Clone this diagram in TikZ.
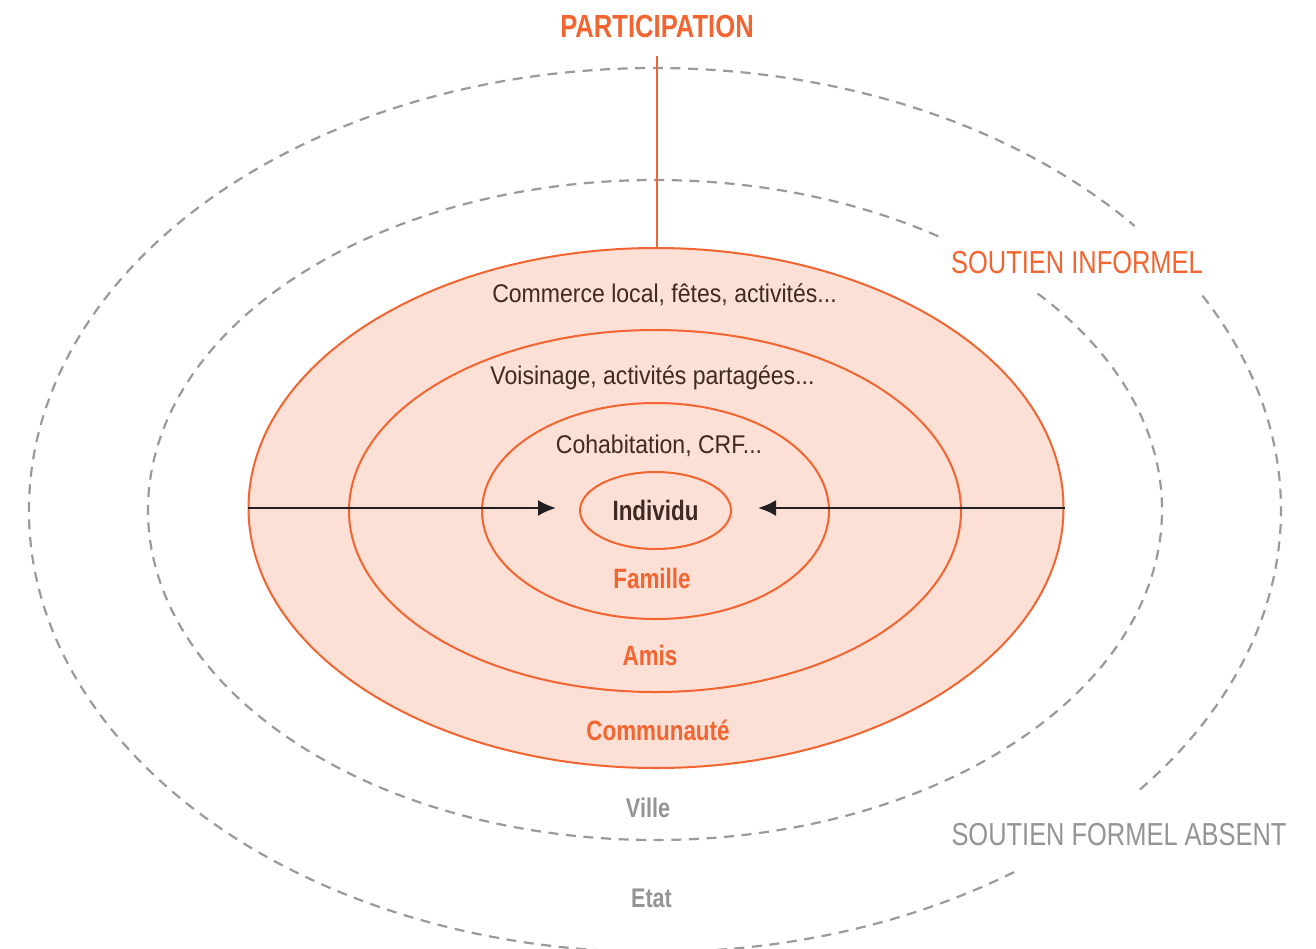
\documentclass[tikz,border=0pt]{standalone}
\usepackage{fontspec}
\setmainfont{Liberation Sans}[FakeStretch=0.8]
\newfontfamily\notefont{Liberation Sans}[FakeStretch=0.9]
\usetikzlibrary{arrows.meta,shapes.geometric}
\definecolor{ringorange}{HTML}{F26530}
\definecolor{ringfill}{HTML}{FCDFD5}
\definecolor{dashgray}{HTML}{9A9A9A}
\definecolor{labelgray}{HTML}{949494}
\definecolor{textbrown}{HTML}{3E2A22}
\definecolor{arrowdark}{HTML}{231F20}
\begin{document}
\begin{tikzpicture}[x=0.5pt,y=-0.5pt,
ring/.style={ellipse,draw=ringorange,fill=ringfill,line width=1pt,inner sep=0pt},
ringlabel/.style={anchor=base,inner sep=0pt,font=\bfseries\fontsize{14}{16}\selectfont,text=ringorange},
statelabel/.style={anchor=base,inner sep=0pt,font=\bfseries\fontsize{13.5}{16}\selectfont,text=labelgray},
note/.style={anchor=base,inner sep=0pt,font=\notefont\fontsize{12.8}{15}\selectfont,text=textbrown},
support/.style={anchor=base,inner sep=0pt,font=\fontsize{15.9}{19}\selectfont},
softline/.style={draw=dashgray,line width=1.1pt,dash pattern=on 5pt off 3.8pt},
pointer/.style={-{Latex[length=9pt,width=8pt]},line width=1.2pt,draw=arrowdark}]
\useasboundingbox (0,0) rectangle (1316,948);
\fill[white] (0,0) rectangle (1316,948);
% formal support (outer dashed rings)
\coordinate (centre) at (655,510);
\draw[softline] (centre) ++(-29:626 and 442) arc[start angle=-29,end angle=40,x radius=626,y radius=442];
\draw[softline] (centre) ++(55:626 and 442) arc[start angle=55,end angle=320,x radius=626,y radius=442];
\draw[softline] (centre) ++(-41:507 and 330) arc[start angle=-41,end angle=304,x radius=507,y radius=330];
% informal support (filled rings)
\node[ring,minimum width=407.5pt,minimum height=260pt] (comm) at (656,508) {};
\node[ring,minimum width=306pt,minimum height=181pt] (amis) at (655,511) {};
\node[ring,minimum width=173.5pt,minimum height=108pt] (famille) at (655.5,511) {};
\node[ring,minimum width=75.5pt,minimum height=38.5pt,font=\bfseries\fontsize{14}{16}\selectfont,text=textbrown] (indiv) at (655.5,510.5) {Individu};
% texts
\node[note] (commerce) at (664.5,302) {Commerce local, fêtes, activités...};
\node[note] (voisinage) at (652.5,384) {Voisinage, activités partagées...};
\node[note] (cohab) at (659,453) {Cohabitation, CRF...};
\node[ringlabel] (famillelabel) at (652,588) {Famille};
\node[ringlabel] (amislabel) at (650,665) {Amis};
\node[ringlabel] (commlabel) at (658,740) {Communauté};
\node[statelabel] (ville) at (648,817) {Ville};
\node[statelabel] (etat) at (651.5,907) {Etat};
\node[support,text=ringorange] (informel) at (1077,273) {SOUTIEN INFORMEL};
\node[support,text=labelgray] (formel) at (1119,845) {SOUTIEN FORMEL ABSENT};
\node[anchor=base,inner sep=0pt,font=\bfseries\fontsize{16}{18}\selectfont,text=ringorange] (participation) at (657,37) {PARTICIPATION};
% connectors
\draw[ringorange,line width=1pt] (participation.south) ++(0,18) coordinate (partfoot) -- (partfoot |- comm.north);
\draw[pointer,shorten >=11.5pt] (comm.west) -- (comm.west -| indiv.west);
\draw[pointer,shorten >=13pt] (comm.east) -- (comm.east -| indiv.east);
\end{tikzpicture}
\end{document}
